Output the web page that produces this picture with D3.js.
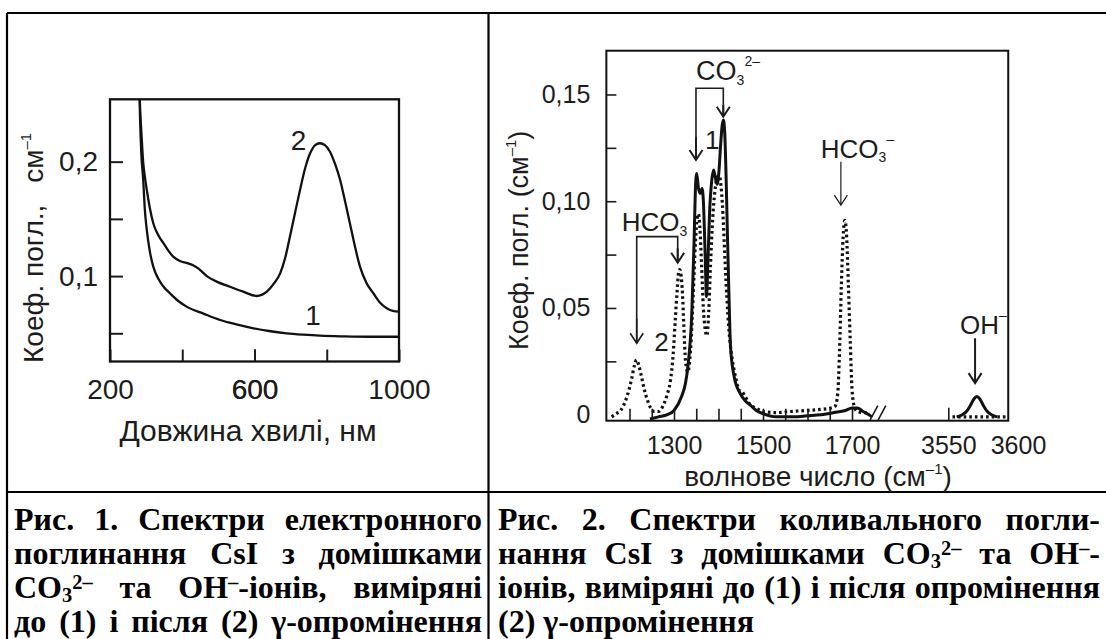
<!DOCTYPE html>
<html>
<head>
<meta charset="utf-8">
<script src="https://cdn.jsdelivr.net/npm/d3@7"></script>
<style>
  body { margin: 0; background: #fff; }
  #container { position: relative; width: 1106px; height: 639px; overflow: hidden; background: #fff; }
  #container svg { position: absolute; left: 0; top: 0; }
  .cap { position: absolute; font-family: "Liberation Serif", "Times New Roman", serif; font-weight: bold;
         font-size: 32px; line-height: 1; color: #000; white-space: nowrap; }
  .cap sub, .cap sup { font-size: 0.64em; line-height: 0; }
  .cap sub { vertical-align: -0.18em; }
  .cap sup { vertical-align: 0.42em; }
</style>
</head>
<body>
<div id="container"></div>
<script>
// ---------- Рис. 1: електронне поглинання (довжина хвилі, нм) ----------
const fig1Wave1 = [279, 283, 287, 292, 296, 302, 310, 320, 335, 350, 366, 390, 412, 460, 505, 550, 597, 640, 689, 735, 781, 850, 920, 1000];
const fig1Coef1 = [0.30, 0.24, 0.205, 0.184, 0.16, 0.14, 0.122, 0.108, 0.097, 0.09, 0.085, 0.078, 0.0733, 0.067, 0.0616, 0.0578, 0.0544, 0.052, 0.050, 0.0488, 0.0479, 0.0473, 0.047, 0.047];
const fig1Wave2 = [279, 283, 287, 292, 296, 302, 310, 320, 335, 348, 362, 375, 395, 412, 430, 445, 468, 500, 532, 569, 606, 634, 655, 671, 685, 698, 712, 726, 740, 754, 768, 781, 795, 809, 823, 837, 851, 864, 878, 892, 910, 929, 947, 966, 983, 1000];
const fig1Coef2 = [0.30, 0.25, 0.225, 0.199, 0.188, 0.175, 0.16, 0.146, 0.135, 0.1287, 0.122, 0.117, 0.113, 0.1115, 0.1095, 0.1065, 0.1, 0.0945, 0.0907, 0.0864, 0.0826, 0.0864, 0.094, 0.1024, 0.116, 0.1344, 0.155, 0.1753, 0.194, 0.2073, 0.2145, 0.2161, 0.2145, 0.2087, 0.198, 0.184, 0.165, 0.1462, 0.126, 0.1082, 0.094, 0.085, 0.077, 0.0719, 0.0695, 0.0689];
const fig1XTicks = [400, 600, 800];
const fig1XLabels = [200, 600, 1000];
const fig1YTicks = [0.05, 0.1, 0.15, 0.2];
const fig1YLabels = [0.1, 0.2];

// ---------- Рис. 2: коливальне поглинання (волнове число, см-1) ----------
// curve 1 (solid), low range and the OH- range past the axis break
const fig2WaveSolid = [1246, 1265, 1285, 1300, 1317, 1326, 1332, 1340, 1345, 1348, 1351, 1355, 1359, 1363, 1366, 1370, 1373, 1376, 1380, 1385, 1389, 1393, 1397, 1401, 1405, 1408, 1411, 1414, 1417, 1420, 1423, 1427, 1435, 1448, 1460, 1471, 1485, 1500, 1530, 1570, 1600, 1630, 1660, 1685, 1700, 1712, 1725, 1738, 1745];
const fig2CoefSolid = [-0.002, -0.001, 0, 0.002, 0.0085, 0.015, 0.024, 0.0475, 0.08, 0.105, 0.113, 0.106, 0.1037, 0.106, 0.1, 0.075, 0.0553, 0.07, 0.095, 0.11, 0.1146, 0.111, 0.108, 0.114, 0.127, 0.135, 0.138, 0.132, 0.112, 0.085, 0.06, 0.032, 0.018, 0.0102, 0.0065, 0.0046, 0.002, 0.0005, -0.001, -0.001, -0.0005, 0, 0.001, 0.002, 0.0032, 0.0032, 0.0015, 0, -0.001];
const fig2WaveSolidOH = [3556, 3560, 3563, 3566, 3568.5, 3570.5, 3572.5, 3575, 3578, 3581, 3585];
const fig2CoefSolidOH = [-0.001, 0, 0.0015, 0.0045, 0.0075, 0.0085, 0.0075, 0.0045, 0.0015, 0, -0.001];
// curve 2 (dotted)
const fig2WaveDot = [1160, 1170, 1180, 1190, 1198, 1205, 1211, 1216, 1221, 1227, 1233, 1240, 1248, 1256, 1265, 1275, 1284, 1292, 1298, 1303, 1307, 1310, 1313, 1316, 1319, 1322, 1326, 1331, 1337, 1343, 1348, 1352, 1355, 1358, 1362, 1366, 1370, 1374, 1378, 1382, 1387, 1392, 1397, 1401, 1404, 1407, 1410, 1413, 1417, 1421, 1425, 1430, 1435, 1440, 1446, 1452, 1460, 1470, 1485, 1500, 1530, 1560, 1600, 1630, 1650, 1662, 1668, 1672, 1676, 1680, 1684, 1688, 1692, 1696, 1700, 1705, 1712, 1725, 1740];
const fig2CoefDot = [-0.001, 0.0005, 0.002, 0.006, 0.011, 0.017, 0.023, 0.0257, 0.023, 0.0178, 0.012, 0.007, 0.003, 0.0015, 0.0015, 0.004, 0.009, 0.016, 0.028, 0.045, 0.058, 0.066, 0.068, 0.065, 0.057, 0.042, 0.025, 0.02, 0.03, 0.055, 0.08, 0.092, 0.094, 0.088, 0.07, 0.05, 0.04, 0.037, 0.048, 0.07, 0.092, 0.105, 0.111, 0.112, 0.11, 0.104, 0.094, 0.08, 0.062, 0.047, 0.036, 0.027, 0.021, 0.016, 0.0115, 0.011, 0.0085, 0.005, 0.003, 0.0015, 0.001, 0.0015, 0.002, 0.0025, 0.003, 0.004, 0.01, 0.03, 0.06, 0.083, 0.091, 0.083, 0.06, 0.035, 0.012, 0.004, 0.0015, 0.001, 0.001];
const fig2WaveDotOH = [3553, 3565, 3580, 3593];
const fig2CoefDotOH = [-0.001, -0.001, -0.001, -0.001];
const fig2XTicksLo = [1200, 1250, 1300, 1350, 1400, 1450, 1500, 1550, 1600, 1650, 1700];
const fig2XLabelsLo = [1300, 1500, 1700];
const fig2XLabelsHi = [3550, 3600];
const fig2YTicks = [0, 0.025, 0.05, 0.075, 0.1, 0.125, 0.15];
const fig2YLabels = [0, 0.05, 0.1, 0.15];

const caption1 = [
  "Рис. 1. Спектри електронного",
  "поглинання CsI з домішками",
  "CO<sub>3</sub><sup>2–</sup> та OH<sup>–</sup>-іонів, виміряні",
  "до (1) і після (2) γ-опромінення"
];
const caption2 = [
  "Рис. 2. Спектри коливального погли-",
  "нання CsI з домішками CO<sub>3</sub><sup>2–</sup> та OH<sup>–</sup>-",
  "іонів, виміряні до (1) і після опромінення",
  "(2) γ-опромінення"
];

const zip = (xs, ys) => xs.map((x, i) => ({x, y: ys[i]}));
const locale = d3.formatLocale({decimal: ",", thousands: " ", grouping: [3], currency: ["", ""]});
const SANS = "'Liberation Sans', Arial, sans-serif";
const INK = "#1c1c1c";

const W = 1106, H = 639;
const container = d3.select("#container");
const svg = container.append("svg").attr("width", W).attr("height", H);

// table grid
const grid = svg.append("g").attr("stroke", "#000").attr("stroke-width", 2.2);
grid.append("line").attr("x1", 7).attr("x2", W).attr("y1", 13).attr("y2", 13);
grid.append("line").attr("x1", 7).attr("x2", W).attr("y1", 492).attr("y2", 492);
grid.append("line").attr("x1", 7).attr("x2", 7).attr("y1", 13).attr("y2", H);
grid.append("line").attr("x1", 488.5).attr("x2", 488.5).attr("y1", 13).attr("y2", H);

// helper: text with sub/superscript pieces
function rich(g, parts) {
  parts.forEach(p => {
    g.append("tspan").attr("font-size", p.size || null).attr("dy", p.dy || 0).attr("dx", p.dx || 0).text(p.t);
  });
  return g;
}
function arrow(g, x, yFrom, yTo, w) {
  g.append("path")
    .attr("d", `M${x},${yFrom}V${yTo}M${x - 6.5},${yTo - 10}L${x},${yTo}L${x + 6.5},${yTo - 10}`)
    .attr("fill", "none").attr("stroke", INK).attr("stroke-width", w);
}

// ================= Рис. 1 =================
const x1 = d3.scaleLinear().domain([200, 1000]).range([110, 399]);
const y1 = d3.scaleLinear().domain([0.02535, 0.2545]).range([361.5, 99.3]);
const g1 = svg.append("g");

g1.append("clipPath").attr("id", "clip1").append("rect")
  .attr("x", x1.range()[0]).attr("y", y1.range()[1])
  .attr("width", x1.range()[1] - x1.range()[0]).attr("height", y1.range()[0] - y1.range()[1]);

const line1 = d3.line().x(d => x1(d.x)).y(d => y1(d.y)).curve(d3.curveMonotoneX);
[zip(fig1Wave1, fig1Coef1), zip(fig1Wave2, fig1Coef2)].forEach(s => {
  g1.append("path").datum(s).attr("d", line1).attr("clip-path", "url(#clip1)")
    .attr("fill", "none").attr("stroke", "#111").attr("stroke-width", 2.3);
});

const ax1y = g1.append("g").attr("transform", `translate(${x1.range()[0]},0)`)
  .call(d3.axisLeft(y1).tickValues(fig1YTicks).tickSize(-13).tickPadding(12)
    .tickFormat(d => fig1YLabels.includes(d) ? locale.format(".1f")(d) : ""));
const ax1x = g1.append("g").attr("transform", `translate(0,${y1.range()[0]})`)
  .call(d3.axisBottom(x1).tickValues(fig1XTicks.concat(fig1XLabels)).tickSize(-12).tickPadding(18)
    .tickFormat(d => fig1XLabels.includes(d) ? d : ""));
[ax1y, ax1x].forEach(a => {
  a.select(".domain").remove();
  a.selectAll("line").attr("stroke", INK).attr("stroke-width", 2);
  a.selectAll("text").attr("font-family", SANS).attr("font-size", 28).attr("fill", INK);
});

g1.append("rect")
  .attr("x", x1.range()[0]).attr("y", y1.range()[1])
  .attr("width", x1.range()[1] - x1.range()[0]).attr("height", y1.range()[0] - y1.range()[1])
  .attr("fill", "none").attr("stroke", "#111").attr("stroke-width", 2.3);

// curve numbers
const lab1 = g1.append("g").attr("font-family", SANS).attr("font-size", 28).attr("fill", INK).attr("text-anchor", "middle");
lab1.append("text").attr("x", x1(722)).attr("y", y1(0.2101)).text("2");
lab1.append("text").attr("x", x1(762)).attr("y", y1(0.0573)).text("1");

// axis titles
g1.append("text").attr("x", 248).attr("y", 441).attr("text-anchor", "middle")
  .attr("font-family", SANS).attr("font-size", 30).attr("fill", INK).text("Довжина хвилі, нм");
rich(g1.append("text").attr("transform", "translate(43,363) rotate(-90)")
  .attr("font-family", SANS).attr("font-size", 28).attr("fill", INK),
  [{t: "Коеф. погл.,"}, {t: "см", dx: 22}, {t: "–1", size: 15, dy: -12}]);

// ================= Рис. 2 =================
const xLo = d3.scaleLinear().domain([1300, 1700]).range([674, 852]);
const xHi = d3.scaleLinear().domain([3550, 3600]).range([948.3, 1018]);
const y2 = d3.scaleLinear().domain([-0.0028, 0.1705]).range([420.7, 50.7]);
const bx0 = xLo(1148), bx1 = xHi(3593);
const g2 = svg.append("g");

g2.append("clipPath").attr("id", "clip2").append("rect")
  .attr("x", bx0).attr("y", y2.range()[1]).attr("width", bx1 - bx0).attr("height", y2.range()[0] - y2.range()[1]);

const lineLo = d3.line().x(d => xLo(d.x)).y(d => y2(d.y)).curve(d3.curveMonotoneX);
const lineHi = d3.line().x(d => xHi(d.x)).y(d => y2(d.y)).curve(d3.curveMonotoneX);

const dotted = [[lineLo, zip(fig2WaveDot, fig2CoefDot)], [lineHi, zip(fig2WaveDotOH, fig2CoefDotOH)]];
dotted.forEach(([ln, s]) => {
  g2.append("path").datum(s).attr("d", ln).attr("clip-path", "url(#clip2)")
    .attr("fill", "none").attr("stroke", "#111").attr("stroke-width", 3.2).attr("stroke-dasharray", "2.6,3");
});
const solid = [[lineLo, zip(fig2WaveSolid, fig2CoefSolid)], [lineHi, zip(fig2WaveSolidOH, fig2CoefSolidOH)]];
solid.forEach(([ln, s]) => {
  g2.append("path").datum(s).attr("d", ln).attr("clip-path", "url(#clip2)")
    .attr("fill", "none").attr("stroke", "#111").attr("stroke-width", 3);
});

const ax2y = g2.append("g").attr("transform", `translate(${bx0},0)`)
  .call(d3.axisLeft(y2).tickValues(fig2YTicks).tickSize(-10).tickPadding(16)
    .tickFormat(d => fig2YLabels.includes(d) ? (d === 0 ? "0" : locale.format(".2f")(d)) : ""));
ax2y.selectAll(".tick").filter(d => d === 0).select("line").remove();
const ax2lo = g2.append("g").attr("transform", `translate(0,${y2.range()[0]})`)
  .call(d3.axisBottom(xLo).tickValues(fig2XTicksLo).tickSize(-12).tickPadding(16)
    .tickFormat(d => fig2XLabelsLo.includes(d) ? d : ""));
const ax2hi = g2.append("g").attr("transform", `translate(0,${y2.range()[0]})`)
  .call(d3.axisBottom(xHi).tickValues(fig2XLabelsHi).tickSize(-13).tickPadding(16).tickFormat(d3.format("d")));
ax2hi.selectAll(".tick").filter(d => d === 3600).select("line").remove();
[ax2y, ax2lo, ax2hi].forEach(a => {
  a.select(".domain").remove();
  a.selectAll("line").attr("stroke", INK).attr("stroke-width", 1.6);
  a.selectAll("text").attr("font-family", SANS).attr("font-size", 25).attr("fill", INK);
});

g2.append("rect")
  .attr("x", bx0).attr("y", y2.range()[1]).attr("width", bx1 - bx0).attr("height", y2.range()[0] - y2.range()[1])
  .attr("fill", "none").attr("stroke", "#111").attr("stroke-width", 2);

// axis break marks
const brk = g2.append("g").attr("stroke", INK).attr("stroke-width", 1.6);
[1740, 1758].forEach(w => {
  brk.append("line").attr("x1", xLo(w)).attr("y1", y2.range()[0]).attr("x2", xLo(w) + 8).attr("y2", y2.range()[0] - 15);
});

// annotations: brackets and arrows
const ann = g2.append("g");
// CO3 2- bracket
ann.append("path").attr("d", `M${xLo(1349.4)},${y2(0.1193)}V${y2(0.1529)}H${xLo(1410.8)}V${y2(0.1396)}`)
  .attr("fill", "none").attr("stroke", INK).attr("stroke-width", 1.6);
arrow(ann, xLo(1349.4), y2(0.13), y2(0.1193), 2);
arrow(ann, xLo(1410.8), y2(0.145), y2(0.1396), 2);
// HCO3 bracket (left)
ann.append("path").attr("d", `M${xLo(1216.2)},${y2(0.0335)}V${y2(0.0834)}H${xLo(1308.3)}V${y2(0.0712)}`)
  .attr("fill", "none").attr("stroke", INK).attr("stroke-width", 1.6);
arrow(ann, xLo(1216.2), y2(0.045), y2(0.0335), 1.6);
arrow(ann, xLo(1308.3), y2(0.078), y2(0.0712), 2);
// HCO3- (right)
arrow(ann, xLo(1675), y2(0.1185), y2(0.0982), 1.2);
// OH-
arrow(ann, xHi(3569.2), y2(0.0358), y2(0.0148), 2);

const lab2 = g2.append("g").attr("font-family", SANS).attr("font-size", 26).attr("fill", INK);
rich(lab2.append("text").attr("x", xLo(1349.7)).attr("y", y2(0.157)),
  [{t: "CO", size: 27}, {t: "3", size: 14, dy: 5}, {t: "2–", size: 14, dy: -19}]);
rich(lab2.append("text").attr("x", xLo(1182.5)).attr("y", y2(0.0861)),
  [{t: "HCO"}, {t: "3", size: 14, dy: 5}]);
rich(lab2.append("text").attr("x", xLo(1629.9)).attr("y", y2(0.1203)),
  [{t: "HCO"}, {t: "3", size: 14, dy: 4}, {t: "–", size: 14, dy: -18}]);
rich(lab2.append("text").attr("x", xHi(3558.4)).attr("y", y2(0.0376)),
  [{t: "OH"}, {t: "–", size: 14, dy: -14}]);
lab2.append("text").attr("x", xLo(1386)).attr("y", y2(0.1245)).attr("text-anchor", "middle").text("1");
lab2.append("text").attr("x", xLo(1272)).attr("y", y2(0.0299)).attr("text-anchor", "middle").text("2");

// axis titles
rich(g2.append("text").attr("x", 818).attr("y", 486).attr("text-anchor", "middle")
  .attr("font-family", SANS).attr("font-size", 28).attr("fill", INK),
  [{t: "волнове число (см"}, {t: "–1", size: 15, dy: -12}, {t: ")", dy: 12}]);
rich(g2.append("text").attr("transform", "translate(528,350) rotate(-90)")
  .attr("font-family", SANS).attr("font-size", 27).attr("fill", INK),
  [{t: "Коеф. погл. (см"}, {t: "–1", size: 15, dy: -12}, {t: ")", dy: 12}]);

// ================= captions (justified line by line) =================
const capTops = [503, 537, 571, 605];
function captionBlock(lines, left, width, lastLeft) {
  lines.forEach((t, i) => {
    const div = container.append("div").attr("class", "cap")
      .style("left", left + "px").style("top", capTops[i] + "px").html(t);
    if (lastLeft && i === lines.length - 1) return;
    const natural = div.node().getBoundingClientRect().width;
    const gaps = div.node().textContent.split(" ").length - 1;
    if (gaps > 0) div.style("word-spacing", ((width - natural) / gaps) + "px");
  });
}
captionBlock(caption1, 14, 468, false);
captionBlock(caption2, 498, 602, true);
</script>
</body>
</html>
